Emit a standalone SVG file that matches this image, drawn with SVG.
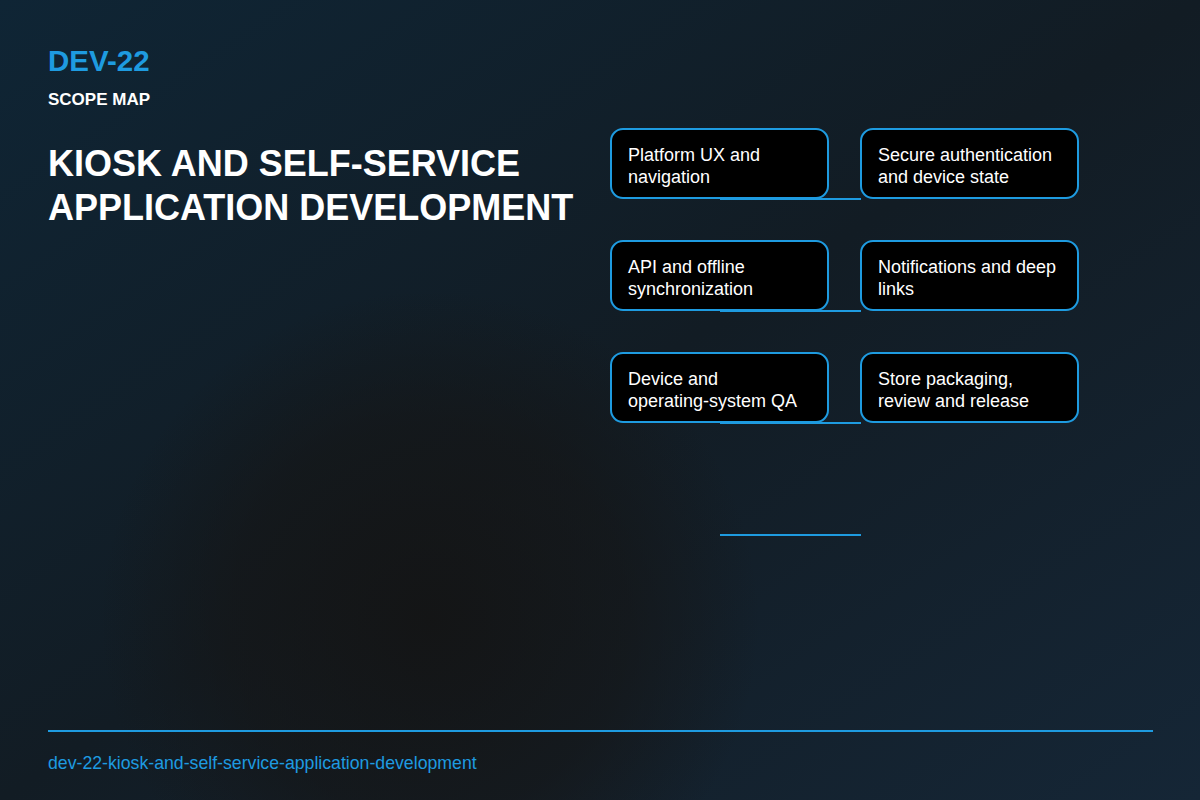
<svg xmlns="http://www.w3.org/2000/svg" width="1200" height="800" viewBox="0 0 1200 800">
<defs>
<linearGradient id="bg" x1="0" y1="0" x2="1" y2="1">
<stop offset="0" stop-color="#0f2535"/><stop offset="0.5" stop-color="#121c24"/><stop offset="1" stop-color="#152636"/>
</linearGradient>
<radialGradient id="blob" cx="430" cy="620" r="330" gradientUnits="userSpaceOnUse">
<stop offset="0" stop-color="#141414" stop-opacity="0.9"/><stop offset="0.6" stop-color="#151515" stop-opacity="0.6"/><stop offset="1" stop-color="#151515" stop-opacity="0"/>
</radialGradient>
<style>
.box{fill:#000;stroke:#1e9be0;stroke-width:2}
.lbl{font-family:"Liberation Sans",Arial,sans-serif;font-size:18px;fill:#fff}
.con{stroke:#1e9be0;stroke-width:2;fill:none}
</style>
</defs>
<rect width="1200" height="800" fill="url(#bg)"/>
<rect width="1200" height="800" fill="url(#blob)"/>
<text x="48" y="71" font-family="Liberation Sans,Arial,sans-serif" font-size="29.5" font-weight="bold" fill="#1e9be0">DEV-22</text>
<text x="48" y="105" font-family="Liberation Sans,Arial,sans-serif" font-size="17" font-weight="bold" fill="#fff">SCOPE MAP</text>
<text font-family="Liberation Sans,Arial,sans-serif" font-size="36" font-weight="bold" fill="#fff"><tspan x="48" y="176">KIOSK AND SELF-SERVICE</tspan><tspan x="48" y="220">APPLICATION DEVELOPMENT</tspan></text>
<g id="connectors">
<line class="con" x1="720" y1="199" x2="861" y2="199"/>
<line class="con" x1="720" y1="311" x2="861" y2="311"/>
<line class="con" x1="720" y1="423" x2="861" y2="423"/>
<line class="con" x1="720" y1="535" x2="861" y2="535"/>
</g>
<g id="n1"><rect class="box" x="611" y="129" width="217" height="69" rx="12"/><text class="lbl"><tspan x="628" y="161">Platform UX and</tspan><tspan x="628" y="183">navigation</tspan></text></g>
<g id="n2"><rect class="box" x="861" y="129" width="217" height="69" rx="12"/><text class="lbl"><tspan x="878" y="161">Secure authentication</tspan><tspan x="878" y="183">and device state</tspan></text></g>
<g id="n3"><rect class="box" x="611" y="241" width="217" height="69" rx="12"/><text class="lbl"><tspan x="628" y="273">API and offline</tspan><tspan x="628" y="295">synchronization</tspan></text></g>
<g id="n4"><rect class="box" x="861" y="241" width="217" height="69" rx="12"/><text class="lbl"><tspan x="878" y="273">Notifications and deep</tspan><tspan x="878" y="295">links</tspan></text></g>
<g id="n5"><rect class="box" x="611" y="353" width="217" height="69" rx="12"/><text class="lbl"><tspan x="628" y="385">Device and</tspan><tspan x="628" y="407">operating-system QA</tspan></text></g>
<g id="n6"><rect class="box" x="861" y="353" width="217" height="69" rx="12"/><text class="lbl"><tspan x="878" y="385">Store packaging,</tspan><tspan x="878" y="407">review and release</tspan></text></g>
<line x1="48" y1="731" x2="1153" y2="731" stroke="#1e9be0" stroke-width="2"/>
<text x="48" y="769" font-family="Liberation Sans,Arial,sans-serif" font-size="17.7" fill="#1e9be0">dev-22-kiosk-and-self-service-application-development</text>
</svg>
